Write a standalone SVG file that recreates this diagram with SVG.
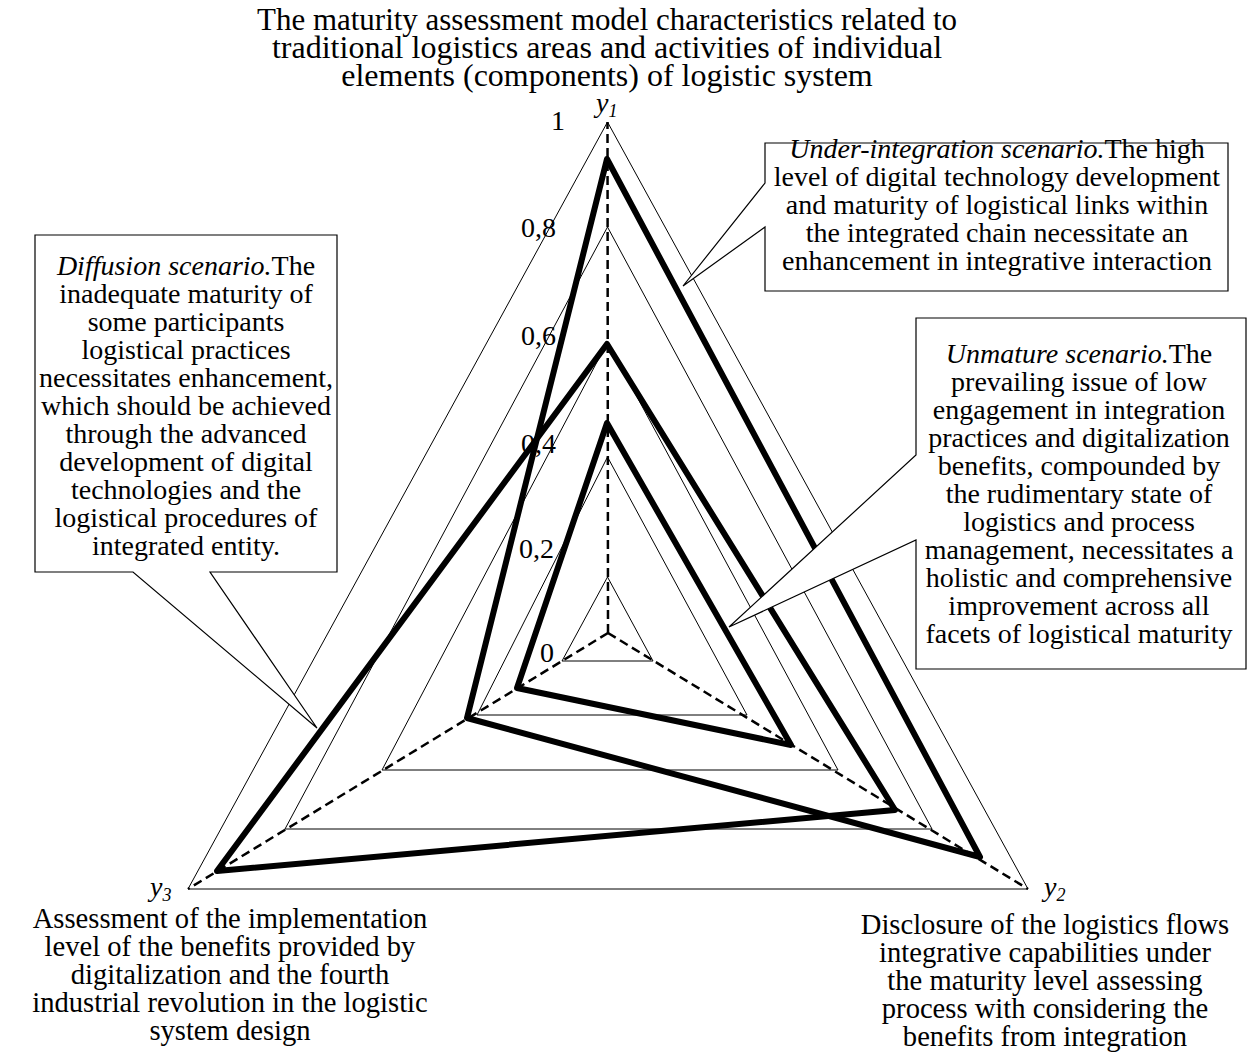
<svg xmlns="http://www.w3.org/2000/svg" width="1258" height="1054" viewBox="0 0 1258 1054">
<style>
text{font-family:"Liberation Serif","Times New Roman",serif;font-size:28px;fill:#000}
.t{font-size:32px}
.b{font-size:28.6px}
.c{text-anchor:middle}
.e{text-anchor:end}
.i{font-style:italic}
.grid{fill:none;stroke:#000;stroke-width:1}
.axis{fill:none;stroke:#000;stroke-width:2.5;stroke-dasharray:9,5}
.data{fill:none;stroke:#000;stroke-width:6;stroke-linejoin:round}
.call{fill:#fff;stroke:#000;stroke-width:1.2}
</style>
<rect width="1258" height="1054" fill="#fff"/>
<g id="title">
<text class="t c" x="607" y="30" textLength="700" lengthAdjust="spacingAndGlyphs">The maturity assessment model characteristics related to</text>
<text class="t c" x="607" y="58">traditional logistics areas and activities of individual</text>
<text class="t c" x="607" y="86">elements (components) of logistic system</text>
</g>
<g id="grid">
<polygon class="grid" points="607.5,122 1028,889 188,889"/>
<polygon class="grid" points="607.5,227 932,829 285,829"/>
<polygon class="grid" points="607.5,342 838,770 382,770"/>
<polygon class="grid" points="607.5,457 747,715 477,715"/>
<polygon class="grid" points="607.5,577 653,661 562,661"/>
</g>
<g id="axes">
<line class="axis" x1="608" y1="633" x2="607.5" y2="122"/>
<line class="axis" x1="608" y1="633" x2="1028" y2="889"/>
<line class="axis" x1="608" y1="633" x2="188" y2="889"/>
</g>
<g id="ticks">
<text class="e" x="565" y="130">1</text>
<text class="e" x="556" y="237">0,8</text>
<text class="e" x="556" y="345">0,6</text>
<text class="e" x="556" y="453">0,4</text>
<text class="e" x="554" y="558">0,2</text>
<text class="e" x="554" y="662">0</text>
</g>
<g id="axis-labels">
<text class="i" x="596" y="112">y<tspan font-size="18" dy="5">1</tspan></text>
<text class="i" x="1044" y="896">y<tspan font-size="18" dy="5">2</tspan></text>
<text class="i" x="150" y="896">y<tspan font-size="18" dy="5">3</tspan></text>
</g>
<g id="series">
<polygon id="series-under" class="data" points="607,159 980,857 467,718"/>
<polygon id="series-diffusion" class="data" points="607,344 895,810 217,871"/>
<polygon id="series-unmature" class="data" points="607,423 791,745 517,688"/>
</g>
<g id="connectors">
<path class="call" d="M765,143 H1228 V291 H765 V227 L683,286 L765,183 Z"/>
<path class="call" d="M916,318 H1246 V669 H916 V540 L729,627 L916,455 Z"/>
<path class="call" d="M35,235 H337 V572 H210 L317,728 L133,572 H35 Z"/>
</g>
<g id="node-under-integration">
<text class="c" x="997" y="158"><tspan class="i">Under-integration scenario.</tspan>The high</text>
<text class="c" x="997" y="186">level of digital technology development</text>
<text class="c" x="997" y="214">and maturity of logistical links within</text>
<text class="c" x="997" y="242">the integrated chain necessitate an</text>
<text class="c" x="997" y="270">enhancement in integrative interaction</text>
</g>
<g id="node-unmature">
<text class="c" x="1079" y="363"><tspan class="i">Unmature scenario.</tspan>The</text>
<text class="c" x="1079" y="391">prevailing issue of low</text>
<text class="c" x="1079" y="419">engagement in integration</text>
<text class="c" x="1079" y="447">practices and digitalization</text>
<text class="c" x="1079" y="475">benefits, compounded by</text>
<text class="c" x="1079" y="503">the rudimentary state of</text>
<text class="c" x="1079" y="531">logistics and process</text>
<text class="c" x="1079" y="559">management, necessitates a</text>
<text class="c" x="1079" y="587">holistic and comprehensive</text>
<text class="c" x="1079" y="615">improvement across all</text>
<text class="c" x="1079" y="643">facets of logistical maturity</text>
</g>
<g id="node-diffusion">
<text class="c" x="186" y="275"><tspan class="i">Diffusion scenario.</tspan>The</text>
<text class="c" x="186" y="303">inadequate maturity of</text>
<text class="c" x="186" y="331">some participants</text>
<text class="c" x="186" y="359">logistical practices</text>
<text class="c" x="186" y="387">necessitates enhancement,</text>
<text class="c" x="186" y="415">which should be achieved</text>
<text class="c" x="186" y="443">through the advanced</text>
<text class="c" x="186" y="471">development of digital</text>
<text class="c" x="186" y="499">technologies and the</text>
<text class="c" x="186" y="527">logistical procedures of</text>
<text class="c" x="186" y="555">integrated entity.</text>
</g>
<g id="node-y3">
<text class="b c" x="230" y="928">Assessment of the implementation</text>
<text class="b c" x="230" y="956">level of the benefits provided by</text>
<text class="b c" x="230" y="984">digitalization and the fourth</text>
<text class="b c" x="230" y="1012">industrial revolution in the logistic</text>
<text class="b c" x="230" y="1040">system design</text>
</g>
<g id="node-y2">
<text class="b c" x="1045" y="934">Disclosure of the logistics flows</text>
<text class="b c" x="1045" y="962">integrative capabilities under</text>
<text class="b c" x="1045" y="990">the maturity level assessing</text>
<text class="b c" x="1045" y="1018">process with considering the</text>
<text class="b c" x="1045" y="1046">benefits from integration</text>
</g>
</svg>
